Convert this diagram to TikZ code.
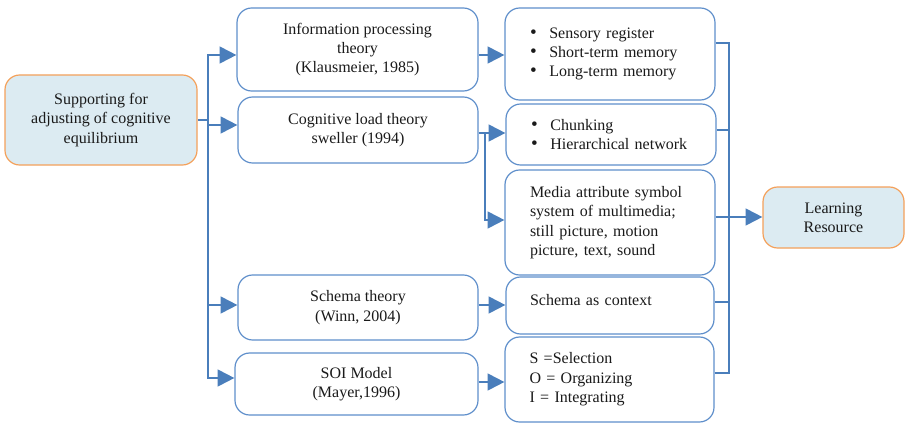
\documentclass[tikz,border=0pt]{standalone}
\usepackage{fontspec}
\setmainfont{Liberation Serif}
\usetikzlibrary{arrows.meta}
\definecolor{linkblue}{HTML}{4A7EBB}
\definecolor{boxblue}{HTML}{5F8FCB}
\definecolor{endfill}{HTML}{DCEBF2}
\definecolor{endline}{HTML}{F4A05A}
\definecolor{ink}{HTML}{1A1A1A}
\newcommand\bul{\makebox[14.5pt][l]{\smash{\scalebox{1.2}{\textbullet}}}}
\begin{document}
\begin{tikzpicture}[x=0.75pt,y=-0.75pt,
  wh/.style 2 args={minimum width=#1*0.75pt,minimum height=#2*0.75pt},
  basebox/.style={rounded corners=11pt,inner sep=0pt,text=ink,
    font=\fontsize{12}{14.5}\selectfont},
  theory/.style={basebox,draw=boxblue,line width=0.9pt,fill=white,align=center},
  detail/.style={theory,align=left,text width=120pt},
  endbox/.style={basebox,draw=endline,line width=0.9pt,fill=endfill,align=center},
  link/.style={draw=linkblue,line width=1.5pt},
  arr/.style={link,-{Triangle[length=12.5pt,width=12.5pt]}}]
\useasboundingbox (0,0) rectangle (905,424);

% source and target
\node[endbox,wh={192}{90}] (sup) at (101,120)
  {Supporting for\\adjusting of cognitive\\equilibrium};
\node[endbox,wh={141}{61}] (lr) at (833.5,217.5) {Learning\\Resource};

% theories
\node[theory,wh={241}{83}] (info) at (357.5,49.5)
  {Information processing\\theory\\(Klausmeier, 1985)};
\node[theory,wh={240}{66}] (cog) at (358,130)
  {Cognitive load theory\\sweller (1994)};
\node[theory,wh={240}{65}] (schema) at (358,307.5)
  {Schema theory\\(Winn, 2004)};
\node[theory,wh={243}{62}] (soi) at (356.5,384)
  {SOI Model\\(Mayer,1996)};

% details
\node[detail,wh={210}{92}] (sens) at (610,54)
  {\bul Sensory register\\\bul Short-term memory\\\bul Long-term memory};
\node[detail,wh={210}{61}] (chunk) at (611,134.5)
  {\bul Chunking\\\bul Hierarchical network};
\node[detail,wh={210}{105}] (media) at (610,222.5)
  {Media attribute symbol\\system of multimedia;\\still picture, motion\\picture, text, sound};
\node[detail,wh={208}{57}] (ctx) at (610,305.5)
  {\raisebox{9pt}{Schema as context}};
\node[detail,wh={209}{85}] (sel) at (609.5,379.5)
  {S =Selection\\O = Organizing\\I = Integrating};

% left trunk
\coordinate (t1) at (208,55);
\coordinate (t2) at (208,125);
\coordinate (t3) at (208,305);
\coordinate (t4) at (208,378);
\draw[link,line cap=rect] (t1) -- (t4);
\draw[link] (sup.east) -- (sup.east -| t1);
\draw[arr] (t1) -- (t1 -| info.west);
\draw[arr] (t2) -- (t2 -| cog.west);
\draw[arr] (t3) -- (t3 -| schema.west);
\draw[arr] (t4) -- (t4 -| soi.west);

% theories to details
\coordinate (b1) at (485,133);
\coordinate (b2) at (485,220);
\draw[arr] (info.east |- t1) -- (sens.west |- t1);
\draw[arr] (b1 -| cog.east) -- (b1 -| chunk.west);
\draw[arr] (b1) -- (b2) -- (b2 -| media.west);
\draw[arr] (schema.east |- t3) -- (ctx.west |- t3);
\coordinate (s4) at (490,382);
\draw[arr] (s4 -| soi.east) -- (s4 -| sel.west);

% right trunk
\coordinate (r1) at (729,43);
\coordinate (r2) at (729,130);
\coordinate (r3) at (729,217);
\coordinate (r4) at (729,302);
\coordinate (r5) at (729,373);
\draw[link,line cap=rect] (r1) -- (r5);
\draw[link] (sens.east |- r1) -- (r1);
\draw[link] (chunk.east |- r2) -- (r2);
\draw[arr] (media.east |- r3) -- (r3 -| lr.west);
\draw[link] (ctx.east |- r4) -- (r4);
\draw[link] (sel.east |- r5) -- (r5);
\end{tikzpicture}
\end{document}
